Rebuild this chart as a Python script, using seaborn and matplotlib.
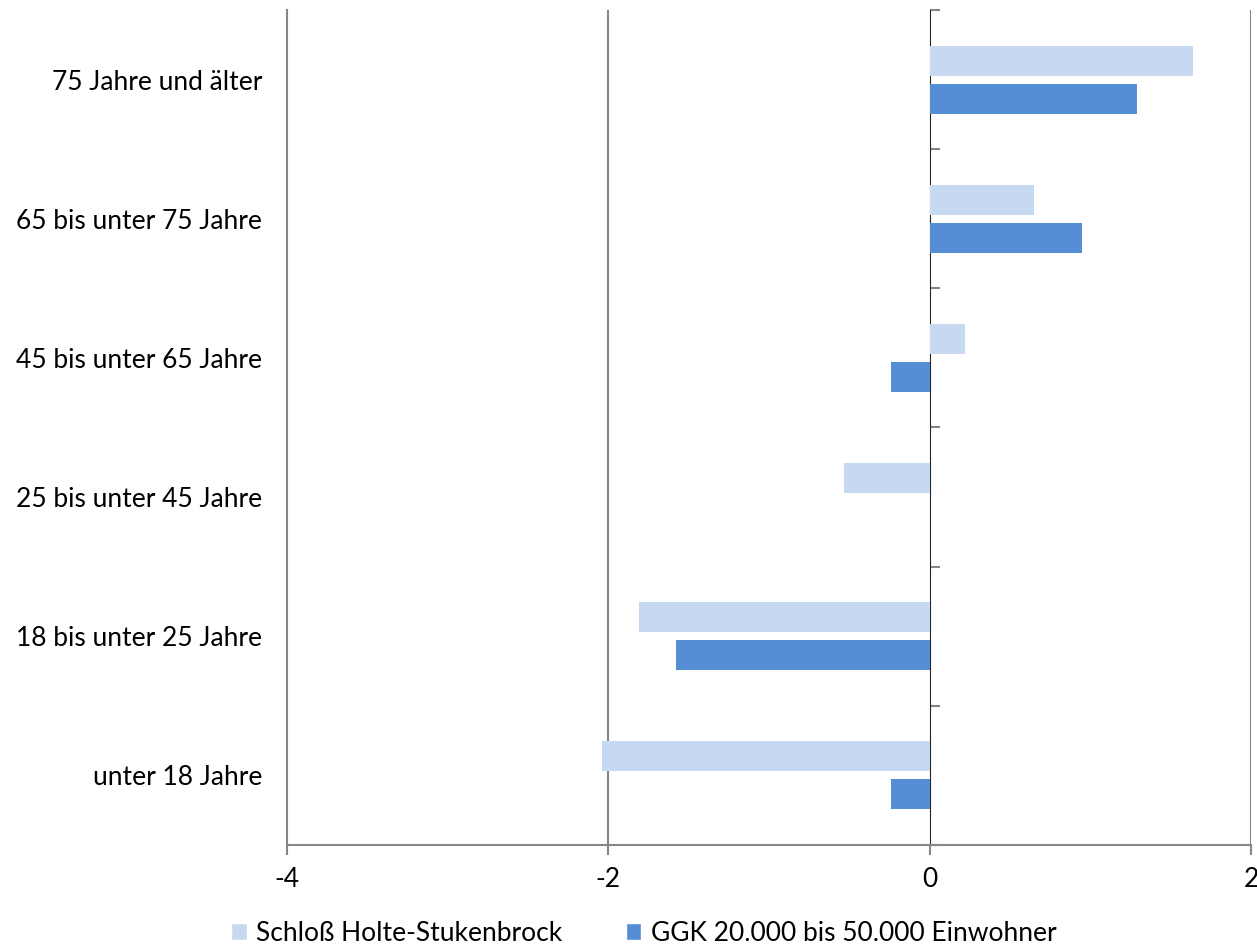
import pandas as pd
import numpy as np
import seaborn as sns
import matplotlib.pyplot as plt
from matplotlib.patches import Patch

# Altersgruppen von oben nach unten
categories = ['75 Jahre und älter', '65 bis unter 75 Jahre', '45 bis unter 65 Jahre',
              '25 bis unter 45 Jahre', '18 bis unter 25 Jahre', 'unter 18 Jahre']
series_names = ['Schloß Holte-Stukenbrock', 'GGK 20.000 bis 50.000 Einwohner']
values_shs = [1.64, 0.65, 0.22, -0.53, -1.81, -2.04]
values_ggk = [1.29, 0.95, -0.24, 0.0, -1.58, -0.24]
x_ticks = [-4, -2, 0, 2]

palette = {series_names[0]: '#C6D9F1', series_names[1]: '#558ED5'}
grey = '#868686'

df = pd.DataFrame({
    'Gruppe': categories * 2,
    'Reihe': [series_names[0]] * len(categories) + [series_names[1]] * len(categories),
    'Wert': values_shs + values_ggk,
})

sns.set_style('white')
plt.rcParams['font.family'] = ['Lato', 'DejaVu Sans']
plt.rcParams['text.color'] = 'black'
plt.rcParams['xtick.labelcolor'] = 'black'
plt.rcParams['ytick.labelcolor'] = 'black'

fig = plt.figure(figsize=(12.57, 9.46), dpi=100)
ax = fig.add_axes([0.2283, 0.1068, 0.7669, 0.8826])

sns.barplot(data=df, x='Wert', y='Gruppe', hue='Reihe', order=categories,
            hue_order=series_names, palette=palette, width=0.545, gap=0.21,
            saturation=1, orient='h', legend=False, linewidth=0, ax=ax)

ax.set_xlim(-4, 2)
ax.set_ylim(len(categories) - 0.5, -0.5)
ax.set_xlabel('')
ax.set_ylabel('')

# vertical grid
for xv in [-2, 2]:
    ax.axvline(xv, color=grey, lw=1.5, zorder=0)

for s in ['top', 'right']:
    ax.spines[s].set_visible(False)
for s in ['left', 'bottom']:
    ax.spines[s].set_color(grey)
    ax.spines[s].set_linewidth(1.5)

ax.set_xticks(x_ticks)
ax.set_xticklabels([str(t) for t in x_ticks])
ax.tick_params(axis='x', direction='out', length=7, width=1.5, color=grey,
               labelsize=19, pad=9, bottom=True)
ax.tick_params(axis='y', length=0, labelsize=19, pad=18, left=False)

# axis at zero with ticks at category boundaries
sec = ax.secondary_yaxis(4 / 6)
sec.spines['left'].set_color(grey)
sec.spines['left'].set_linewidth(1.5)
sec.set_yticks(np.arange(-0.5, len(categories), 1.0))
sec.set_yticklabels([])
sec.tick_params(axis='y', direction='out', length=7, width=1.5, color=grey)

handles = [Patch(facecolor=palette[n], label=n) for n in series_names]
fig.legend(handles=handles, loc='lower center', bbox_to_anchor=(0.512, -0.025), ncol=2,
           frameon=False, fontsize=19, handlelength=0.6, handleheight=0.6,
           handletextpad=0.35, columnspacing=2.4)

fig.savefig('out.png', dpi=100)
